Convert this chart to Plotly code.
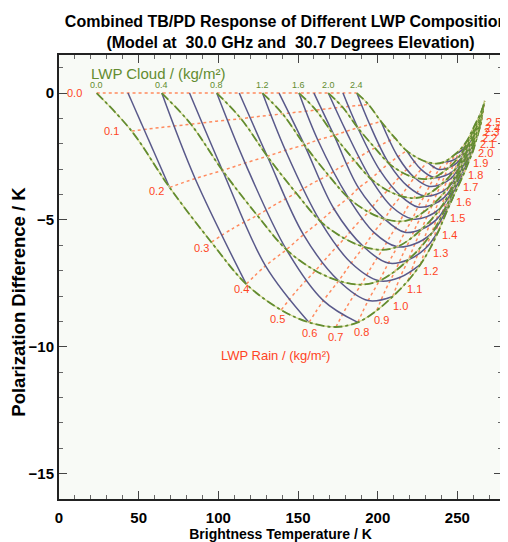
import plotly.graph_objects as go

# LWP grid of the model (kg/m2)
cloud_lwp = [0.0, 0.2, 0.4, 0.6, 0.8, 1.0, 1.2, 1.4, 1.6, 1.8, 2.0, 2.2, 2.4]
rain_lwp = [0.0, 0.1, 0.2, 0.3, 0.4, 0.5, 0.6, 0.7, 0.8, 0.9, 1.0, 1.1, 1.2,
            1.3, 1.4, 1.5, 1.6, 1.7, 1.8, 1.9, 2.0, 2.1, 2.2, 2.3, 2.4, 2.5]

# brightness temperature (K), one row per rain value, one column per cloud value
tb_grid = [
    [23.6, 43.3, 64.5, 81.9, 99.0, 113.1, 127.7, 138.1, 150.6, 160.0, 169.0, 178.2, 186.9],
    [45.6, 63.5, 82.8, 98.7, 114.2, 127.0, 140.3, 149.8, 161.2, 169.7, 177.9, 186.3, 194.2],
    [69.4, 85.4, 102.6, 116.8, 130.7, 142.1, 154.0, 162.4, 172.6, 180.2, 187.5, 195.0, 202.1],
    [95.6, 109.5, 124.4, 136.7, 148.8, 158.7, 169.0, 176.4, 185.2, 191.8, 198.2, 204.7, 210.8],
    [117.5, 129.6, 142.7, 153.4, 163.9, 172.6, 181.6, 188.0, 195.7, 201.5, 207.0, 212.7, 218.1],
    [139.4, 149.8, 160.9, 170.1, 179.1, 186.5, 194.2, 199.6, 206.2, 211.2, 215.9, 220.8, 225.3],
    [156.9, 165.9, 175.5, 183.4, 191.2, 197.6, 204.2, 209.0, 214.6, 218.9, 223.0, 227.2, 231.1],
    [173.8, 181.4, 189.6, 196.3, 202.9, 208.3, 213.9, 217.9, 222.7, 226.4, 229.8, 233.4, 236.7],
    [187.5, 194.0, 201.0, 206.7, 212.3, 217.0, 221.8, 225.2, 229.3, 232.4, 235.4, 238.4, 241.3],
    [199.4, 204.9, 210.9, 215.8, 220.6, 224.5, 228.6, 231.5, 235.0, 237.7, 240.2, 242.8, 245.2],
    [209.4, 214.1, 219.2, 223.4, 227.5, 230.9, 234.4, 236.9, 239.8, 242.1, 244.3, 246.5, 248.6],
    [219.0, 222.9, 227.2, 230.7, 234.1, 236.9, 239.9, 242.0, 244.5, 246.3, 248.2, 250.0, 251.7],
    [226.9, 230.2, 233.8, 236.7, 239.6, 242.0, 244.4, 246.2, 248.3, 249.8, 251.4, 252.9, 254.4],
    [233.5, 236.3, 239.3, 241.7, 244.1, 246.1, 248.2, 249.7, 251.4, 252.8, 254.0, 255.3, 256.6],
    [238.6, 241.0, 243.5, 245.6, 247.7, 249.4, 251.1, 252.4, 253.9, 255.0, 256.1, 257.2, 258.2],
    [243.0, 245.0, 247.2, 249.0, 250.7, 252.2, 253.6, 254.7, 256.0, 257.0, 257.9, 258.8, 259.7],
    [247.2, 248.9, 250.7, 252.2, 253.6, 254.8, 256.1, 256.9, 258.0, 258.8, 259.6, 260.4, 261.1],
    [251.2, 252.6, 254.0, 255.2, 256.4, 257.4, 258.4, 259.1, 259.9, 260.6, 261.2, 261.8, 262.4],
    [254.6, 255.7, 256.8, 257.8, 258.7, 259.5, 260.3, 260.9, 261.6, 262.1, 262.6, 263.1, 263.6],
    [257.5, 258.3, 259.3, 260.0, 260.7, 261.3, 262.0, 262.4, 263.0, 263.4, 263.7, 264.1, 264.5],
    [260.0, 260.6, 261.3, 261.9, 262.5, 262.9, 263.4, 263.7, 264.2, 264.5, 264.8, 265.1, 265.3],
    [261.6, 262.1, 262.7, 263.1, 263.6, 263.9, 264.3, 264.6, 264.9, 265.2, 265.4, 265.6, 265.9],
    [262.8, 263.2, 263.7, 264.0, 264.4, 264.7, 265.0, 265.2, 265.5, 265.7, 265.9, 266.1, 266.3],
    [263.8, 264.1, 264.5, 264.8, 265.1, 265.3, 265.6, 265.8, 266.0, 266.1, 266.3, 266.5, 266.6],
    [264.6, 264.9, 265.2, 265.4, 265.6, 265.8, 266.0, 266.2, 266.4, 266.5, 266.6, 266.8, 266.9],
    [265.3, 265.5, 265.8, 265.9, 266.1, 266.3, 266.4, 266.6, 266.7, 266.8, 266.9, 267.0, 267.1],
]

# polarization difference (K), same layout
pd_grid = [
    [0.0, 0.0, 0.0, 0.0, 0.0, 0.0, 0.0, 0.0, 0.0, 0.0, 0.0, 0.0, 0.0],
    [-1.50, -1.36, -1.23, -1.11, -1.01, -0.91, -0.82, -0.75, -0.67, -0.61, -0.55, -0.50, -0.45],
    [-3.72, -3.37, -3.05, -2.76, -2.49, -2.26, -2.04, -1.85, -1.67, -1.51, -1.37, -1.24, -1.12],
    [-5.88, -5.32, -4.82, -4.36, -3.94, -3.57, -3.23, -2.92, -2.64, -2.39, -2.16, -1.96, -1.77],
    [-7.53, -6.81, -6.17, -5.58, -5.05, -4.57, -4.13, -3.74, -3.38, -3.06, -2.77, -2.51, -2.27],
    [-8.55, -7.74, -7.00, -6.34, -5.73, -5.19, -4.69, -4.25, -3.84, -3.48, -3.15, -2.85, -2.57],
    [-9.04, -8.18, -7.40, -6.70, -6.06, -5.49, -4.96, -4.49, -4.06, -3.68, -3.33, -3.01, -2.72],
    [-9.22, -8.34, -7.55, -6.83, -6.18, -5.60, -5.06, -4.58, -4.14, -3.75, -3.39, -3.07, -2.78],
    [-9.04, -8.18, -7.40, -6.70, -6.06, -5.49, -4.96, -4.49, -4.06, -3.68, -3.33, -3.01, -2.72],
    [-8.57, -7.76, -7.02, -6.35, -5.74, -5.20, -4.70, -4.26, -3.85, -3.49, -3.15, -2.85, -2.58],
    [-8.02, -7.26, -6.57, -5.94, -5.37, -4.87, -4.40, -3.99, -3.60, -3.26, -2.95, -2.67, -2.41],
    [-7.40, -6.70, -6.06, -5.48, -4.96, -4.49, -4.06, -3.68, -3.32, -3.01, -2.72, -2.46, -2.23],
    [-6.75, -6.11, -5.53, -5.00, -4.52, -4.10, -3.71, -3.35, -3.03, -2.75, -2.48, -2.25, -2.03],
    [-6.05, -5.48, -4.95, -4.48, -4.05, -3.67, -3.32, -3.01, -2.72, -2.46, -2.23, -2.01, -1.82],
    [-5.38, -4.87, -4.41, -3.99, -3.60, -3.27, -2.95, -2.67, -2.42, -2.19, -1.98, -1.79, -1.62],
    [-4.72, -4.27, -3.87, -3.50, -3.16, -2.87, -2.59, -2.35, -2.12, -1.92, -1.74, -1.57, -1.42],
    [-4.12, -3.73, -3.37, -3.05, -2.76, -2.50, -2.26, -2.05, -1.85, -1.68, -1.52, -1.37, -1.24],
    [-3.58, -3.24, -2.93, -2.65, -2.40, -2.17, -1.97, -1.78, -1.61, -1.46, -1.32, -1.19, -1.08],
    [-3.10, -2.81, -2.54, -2.30, -2.08, -1.88, -1.70, -1.54, -1.39, -1.26, -1.14, -1.03, -0.93],
    [-2.65, -2.40, -2.17, -1.96, -1.78, -1.61, -1.45, -1.32, -1.19, -1.08, -0.98, -0.88, -0.80],
    [-2.25, -2.04, -1.84, -1.67, -1.51, -1.37, -1.24, -1.12, -1.01, -0.92, -0.83, -0.75, -0.68],
    [-1.90, -1.72, -1.56, -1.41, -1.27, -1.15, -1.04, -0.94, -0.85, -0.77, -0.70, -0.63, -0.57],
    [-1.65, -1.49, -1.35, -1.22, -1.11, -1.00, -0.91, -0.82, -0.74, -0.67, -0.61, -0.55, -0.50],
    [-1.43, -1.29, -1.17, -1.06, -0.96, -0.87, -0.79, -0.71, -0.64, -0.58, -0.53, -0.48, -0.43],
    [-1.24, -1.12, -1.02, -0.92, -0.83, -0.75, -0.68, -0.62, -0.56, -0.50, -0.46, -0.41, -0.37],
    [-1.04, -0.94, -0.85, -0.77, -0.70, -0.63, -0.57, -0.52, -0.47, -0.42, -0.38, -0.35, -0.31],
]

xticks = [0, 50, 100, 150, 200, 250]
yticks = [0, -5, -10, -15]

ORANGE = '#ff8a5e'
GREEN = '#638c30'
PALE = '#d3d88c'
SLATE = '#59598a'
RED = '#ff4424'
FONT = 'Liberation Sans'

nr, nc = len(rain_lwp), len(cloud_lwp)
fig = go.Figure()

# constant rain LWP (dotted)
for i in range(nr):
    fig.add_trace(go.Scatter(x=tb_grid[i], y=pd_grid[i], mode='lines', hoverinfo='skip',
                             line=dict(color=ORANGE, width=1.5, dash='dot', shape='spline')))

# constant total LWP (solid)
for k in range(1, 25):
    xs, ys = [], []
    for j in range(nc):
        i = 2 * (k - j)
        if 0 <= i < nr:
            xs.append(tb_grid[i][j])
            ys.append(pd_grid[i][j])
    fig.add_trace(go.Scatter(x=xs, y=ys, mode='lines', hoverinfo='skip',
                             line=dict(color=SLATE, width=1.5, shape='spline')))

# constant cloud LWP (dash-dot, pale underlay shows between the dashes)
for j in range(0, nc, 2):
    cx = [row[j] for row in tb_grid]
    cy = [row[j] for row in pd_grid]
    fig.add_trace(go.Scatter(x=cx, y=cy, mode='lines', hoverinfo='skip',
                             line=dict(color=PALE, width=1.2, shape='spline')))
    fig.add_trace(go.Scatter(x=cx, y=cy, mode='lines', hoverinfo='skip',
                             line=dict(color=GREEN, width=1.8, dash='dashdot', shape='spline')))

for j in range(0, nc, 2):
    fig.add_annotation(x=tb_grid[0][j], y=pd_grid[0][j], text=f'{cloud_lwp[j]:.1f}', showarrow=False, yshift=8,
                       font=dict(family=FONT, size=9, color=GREEN))

label_dx = [-22, -20, -13, -10, -5, -4, 0, 0, 4, 5, 8, 7, 10, 9, 10, 11, 11, 11, 11, 11, 12, 12, 12, 12, 12, 12]
label_dy = [0, 0, 4, 6, 5, 9, 11, 10, 10, 10, 9, 8, 7, 6, 5, 5, 4, 3, 3, 3, 3, 3, 3, 3, 3, 3]
for i in range(nr):
    fig.add_annotation(x=tb_grid[i][0], y=pd_grid[i][0], text=f'{rain_lwp[i]:.1f}', showarrow=False,
                       xshift=label_dx[i], yshift=-label_dy[i], font=dict(family=FONT, size=11, color=RED))

fig.add_annotation(x=62, y=0.76, text='LWP Cloud / (kg/m²)', showarrow=False,
                   font=dict(family=FONT, size=15, color=GREEN))
fig.add_annotation(x=136, y=-10.33, text='LWP Rain / (kg/m²)', showarrow=False,
                   font=dict(family=FONT, size=13, color=RED))

# y axis title, set a little below the middle of the axis as in the original
fig.add_annotation(xref='paper', yref='paper', x=-0.092, y=0.445, text='Polarization Difference / K',
                   textangle=-90, showarrow=False, xanchor='center', yanchor='middle',
                   font=dict(family=FONT, size=18.5, color='black', weight='bold'))

tick_font = dict(family=FONT, size=15, color='black', weight='bold')
fig.update_layout(
    width=500, height=534,
    margin=dict(l=51, r=4, t=47, b=40),
    paper_bgcolor='white', plot_bgcolor='#f8faf6',
    showlegend=False,
    title=dict(text='Combined TB/PD Response of Different LWP Compositions<br>'
                    '(Model at\u00a0 30.0 GHz and\u00a0 30.7 Degrees Elevation)',
               x=0.565, xanchor='center', y=1 - 19 / 534, yanchor='top',
               font=dict(family=FONT, size=16, color='black', weight='bold')),
)
fig.update_xaxes(range=[0, 278], tickvals=xticks, ticks='inside', ticklen=8, tickcolor='#444',
                 minor=dict(dtick=10, ticks='inside', ticklen=4, tickcolor='#666'),
                 showline=True, linecolor='#222', linewidth=2, mirror='allticks', showgrid=False, zeroline=False,
                 tickfont=tick_font, ticklabelstandoff=4,
                 title=dict(text='Brightness Temperature / K', standoff=2,
                            font=dict(family=FONT, size=14, color='black', weight='bold')))
fig.update_yaxes(range=[-16, 1.5], tickvals=yticks, ticks='inside', ticklen=8, tickcolor='#444',
                 minor=dict(dtick=1, ticks='inside', ticklen=4, tickcolor='#666'),
                 showline=True, linecolor='#222', linewidth=2, mirror='allticks', showgrid=False, zeroline=False,
                 tickfont=tick_font)

fig.write_html('out.html')
